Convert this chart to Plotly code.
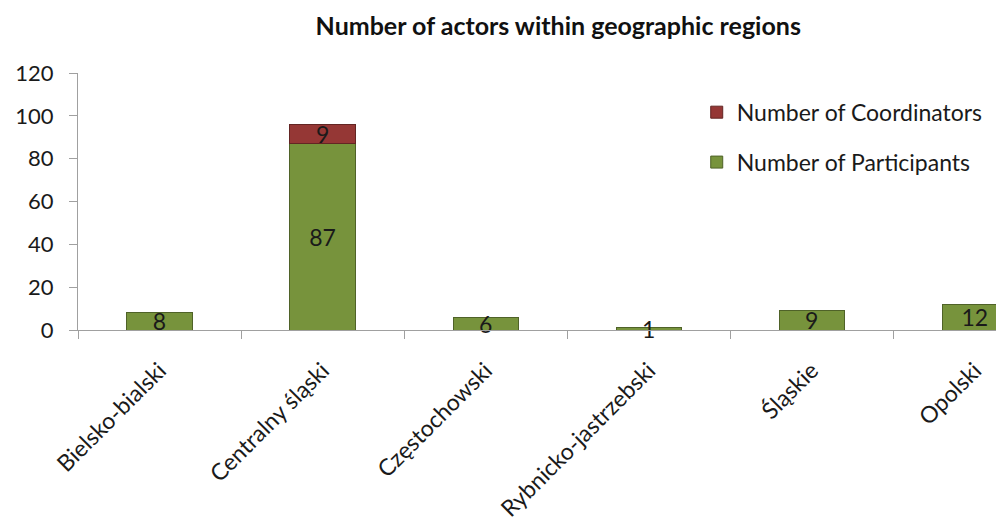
import plotly.graph_objects as go

categories = ["Bielsko-bialski", "Centralny śląski", "Częstochowski",
              "Rybnicko-jastrzebski", "Śląskie", "Opolski"]
participants = [8, 87, 6, 1, 9, 12]
coordinators = [None, 9, None, None, None, None]
y_ticks = [0, 20, 40, 60, 80, 100, 120]

FONT = "Lato, 'Open Sans', sans-serif"
TXT = "#1a1a1a"

fig = go.Figure()
fig.add_trace(go.Bar(
    x=categories, y=participants, name="Number of Participants",
    marker=dict(color="#77933C", line=dict(color="#4F6228", width=1)),
    width=0.4, text=participants, textposition="inside", textangle=0,
    insidetextanchor="middle", cliponaxis=False,
    textfont=dict(size=23, color=TXT, family=FONT),
    legendgroup="p", legendrank=2,
))
fig.add_trace(go.Bar(
    x=categories, y=coordinators, name="Number of Coordinators",
    marker=dict(color="#953735", line=dict(color="#632523", width=1)),
    width=0.4, text=coordinators, textposition="inside", textangle=0,
    insidetextanchor="middle", cliponaxis=False,
    textfont=dict(size=23, color=TXT, family=FONT),
    legendgroup="c", legendrank=1,
))

fig.update_layout(
    width=996, height=530,
    barmode="stack",
    plot_bgcolor="white", paper_bgcolor="white",
    margin=dict(l=78, r=0, t=73, b=200),
    font=dict(family=FONT, color=TXT),
    uniformtext=dict(mode="show", minsize=23),
    title=dict(text="<b>Number of actors within geographic regions</b>",
               x=0.5605, xanchor="center", y=0.951, yanchor="middle",
               font=dict(size=25, family=FONT, color="#111")),
    legend=dict(x=0.674, y=0.931, xanchor="left", yanchor="top",
                traceorder="grouped", tracegroupgap=17,
                font=dict(size=23, family=FONT, color=TXT),
                bgcolor="rgba(0,0,0,0)", itemwidth=30),
    showlegend=True,
)
fig.update_xaxes(
    range=[-0.5, 5.13], showline=True, linecolor="#A0A0A0",
    linewidth=1, ticks="outside", tickson="boundaries", ticklen=8,
    tickcolor="#A0A0A0",
    tickangle=-45, tickfont=dict(size=23, family=FONT, color=TXT),
    ticklabelstandoff=17, showgrid=False, fixedrange=True, automargin=False,
)
fig.update_yaxes(
    range=[0, 120], tickvals=y_ticks, showline=True, linecolor="#A0A0A0",
    linewidth=1, ticks="outside", ticklen=8, tickcolor="#A0A0A0",
    tickfont=dict(size=22, family=FONT, color=TXT),
    ticklabelstandoff=11, showgrid=False, zeroline=False, automargin=False,
    fixedrange=True,
)

# remove the default page margin so the figure fills the window exactly
fig.write_html("out.html",
               config={"displayModeBar": False},
               post_script="document.body.style.margin='0';"
                           "document.body.style.overflow='hidden';")
